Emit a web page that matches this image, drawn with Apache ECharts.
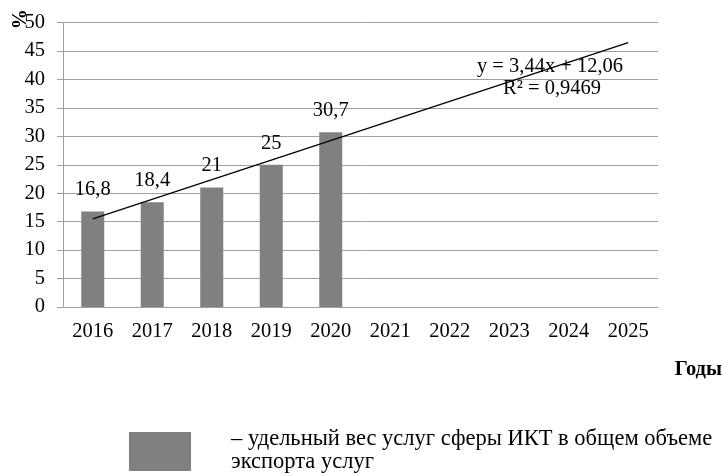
<!DOCTYPE html>
<html><head><meta charset="utf-8">
<script src="https://cdn.jsdelivr.net/npm/echarts@6/dist/echarts.min.js"></script>
<style>html,body{margin:0;padding:0;background:#fff}#c{width:724px;height:476px}</style>
</head><body><div id="c"></div>
<script>
var years = ['2016','2017','2018','2019','2020','2021','2022','2023','2024','2025'];
var shareValues = [16.8, 18.4, 21, 25, 30.7, null, null, null, null, null];
var barLabels = ['16,8', '18,4', '21', '25', '30,7'];
var trendPoints = [[0, 15.5], [9, 46.46]];
var equationText = 'y = 3,44x + 12,06';
var r2Text = 'R² = 0,9469';
var legendText = ['– удельный вес услуг сферы ИКТ в общем объеме', 'экспорта услуг'];

var font = 'Liberation Serif';
var fs = 20.5;
var chart = echarts.init(document.getElementById('c'));
chart.setOption({
  animation: false,
  textStyle: {fontFamily: font},
  grid: {left: 63, right: 66, top: 22.5, bottom: 169},
  xAxis: {
    type: 'category', data: years,
    axisLine: {lineStyle: {color: '#a0a0a0'}},
    axisTick: {show: false},
    axisLabel: {color: '#000', fontSize: fs, fontFamily: font, margin: 14}
  },
  yAxis: {
    type: 'value', min: 0, max: 50, interval: 5,
    axisLine: {show: true, lineStyle: {color: '#a0a0a0'}},
    axisTick: {show: true, length: 6, lineStyle: {color: '#a0a0a0'}},
    splitLine: {lineStyle: {color: '#a0a0a0'}},
    axisLabel: {color: '#000', fontSize: fs, fontFamily: font, margin: 18}
  },
  series: [{
    type: 'bar', data: shareValues, barWidth: 23,
    itemStyle: {color: '#808080'},
    label: {show: true, position: 'top', distance: 11, color: '#000', fontSize: fs, fontFamily: font,
      formatter: function(p){ return barLabels[p.dataIndex]; }}
  }, {
    type: 'line', data: trendPoints, symbol: 'none',
    lineStyle: {color: '#000', width: 1.3}, z: 5
  }],
  graphic: [
    {type: 'text', x: 550, y: 67, style: {text: equationText, font: '20.5px "Liberation Serif"', fill: '#000', align: 'center', verticalAlign: 'middle'}},
    {type: 'text', x: 552, y: 89, style: {text: r2Text, font: '20.5px "Liberation Serif"', fill: '#000', align: 'center', verticalAlign: 'middle'}},
    {type: 'text', x: 17, y: 19, rotation: -Math.PI/2, style: {text: '%', font: 'bold 20px "Liberation Serif"', fill: '#000', align: 'center', verticalAlign: 'middle'}},
    {type: 'text', x: 722, y: 370, style: {text: 'Годы', font: 'bold 20.5px "Liberation Serif"', fill: '#000', align: 'right', verticalAlign: 'middle'}},
    {type: 'rect', shape: {x: 129, y: 432, width: 62, height: 39}, style: {fill: '#808080'}},
    {type: 'text', left: 231, top: 428, style: {text: legendText.join('\n'), font: '22.5px "Liberation Serif"', lineHeight: 23, fill: '#000'}}
  ]
});
</script></body></html>
